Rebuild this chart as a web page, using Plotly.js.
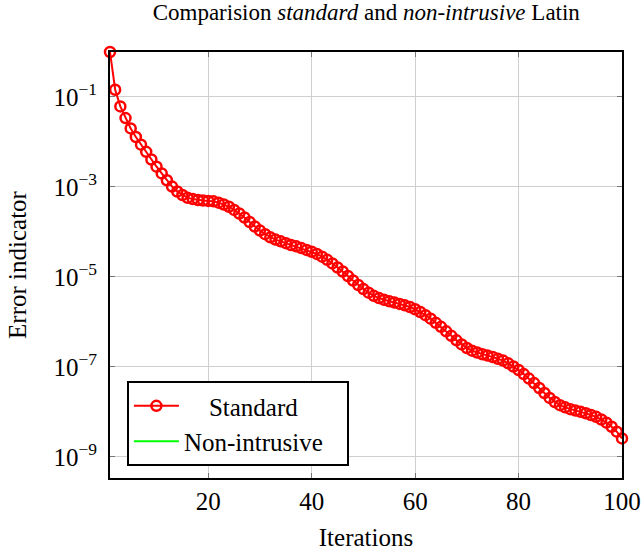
<!DOCTYPE html>
<html>
<head>
<meta charset="utf-8">
<script src="https://cdn.plot.ly/plotly-3.0.1.min.js"></script>
<style>
  html, body { margin: 0; padding: 0; background: #fff; }
  #chart { width: 641px; height: 553px; }
</style>
</head>
<body>
<div id="chart"></div>
<script>
// Iteration numbers of the Latin solver
const iterations = [
  1, 2, 3, 4, 5, 6, 7, 8, 9, 10,
  11, 12, 13, 14, 15, 16, 17, 18, 19, 20,
  21, 22, 23, 24, 25, 26, 27, 28, 29, 30,
  31, 32, 33, 34, 35, 36, 37, 38, 39, 40,
  41, 42, 43, 44, 45, 46, 47, 48, 49, 50,
  51, 52, 53, 54, 55, 56, 57, 58, 59, 60,
  61, 62, 63, 64, 65, 66, 67, 68, 69, 70,
  71, 72, 73, 74, 75, 76, 77, 78, 79, 80,
  81, 82, 83, 84, 85, 86, 87, 88, 89, 90,
  91, 92, 93, 94, 95, 96, 97, 98, 99, 100
];

// Error indicator of the standard Latin method
const standardError = [
  1.00e0, 1.45e-1, 6.17e-2, 3.39e-2, 2.00e-2, 1.29e-2, 8.71e-3, 6.03e-3, 4.07e-3, 2.82e-3,
  2.00e-3, 1.41e-3, 1.02e-3, 7.94e-4, 6.61e-4, 5.75e-4, 5.37e-4, 5.13e-4, 5.01e-4, 4.90e-4,
  4.79e-4, 4.47e-4, 4.07e-4, 3.63e-4, 3.09e-4, 2.57e-4, 2.09e-4, 1.66e-4, 1.32e-4, 1.07e-4,
  8.91e-5, 7.59e-5, 6.76e-5, 6.17e-5, 5.62e-5, 5.13e-5, 4.79e-5, 4.37e-5, 3.98e-5, 3.63e-5,
  3.24e-5, 2.82e-5, 2.40e-5, 2.00e-5, 1.62e-5, 1.32e-5, 1.05e-5, 8.32e-6, 6.61e-6, 5.37e-6,
  4.47e-6, 3.80e-6, 3.39e-6, 3.09e-6, 2.88e-6, 2.69e-6, 2.51e-6, 2.34e-6, 2.14e-6, 1.91e-6,
  1.66e-6, 1.41e-6, 1.18e-6, 9.55e-7, 7.76e-7, 6.17e-7, 4.90e-7, 3.89e-7, 3.16e-7, 2.63e-7,
  2.29e-7, 2.09e-7, 1.91e-7, 1.78e-7, 1.66e-7, 1.51e-7, 1.38e-7, 1.20e-7, 1.02e-7, 8.51e-8,
  6.92e-8, 5.50e-8, 4.37e-8, 3.39e-8, 2.63e-8, 2.04e-8, 1.66e-8, 1.41e-8, 1.26e-8, 1.15e-8,
  1.07e-8, 1.00e-8, 9.33e-9, 8.51e-9, 7.76e-9, 6.76e-9, 5.75e-9, 4.68e-9, 3.63e-9, 2.57e-9
];

// Non-intrusive run: no recorded value, only its legend entry is drawn
const nonIntrusiveIterations = [1];
const nonIntrusiveError = [null];

// Axis ticks
const xTicks = [20, 40, 60, 80, 100];
const yTickVals = [1e-1, 1e-3, 1e-5, 1e-7, 1e-9];
const yTickText = ['10<sup>−1</sup>', '10<sup>−3</sup>', '10<sup>−5</sup>', '10<sup>−7</sup>', '10<sup>−9</sup>'];

const serif = 'Liberation Serif, Times New Roman, serif';

const traces = [
  {
    x: iterations,
    y: standardError,
    name: '&nbsp;&nbsp;&nbsp;&nbsp;Standard',
    type: 'scatter',
    mode: 'lines+markers',
    cliponaxis: false,
    line: { color: '#ff0000', width: 2 },
    marker: { symbol: 'circle-open', size: 10, color: '#ff0000', line: { width: 2.5, color: '#ff0000' } }
  },
  {
    x: nonIntrusiveIterations,
    y: nonIntrusiveError,
    name: 'Non-intrusive&nbsp;&nbsp;&nbsp;',
    type: 'scatter',
    mode: 'lines',
    line: { color: '#00ff00', width: 2 }
  }
];

const layout = {
  width: 641,
  height: 553,
  margin: { l: 110, r: 19, t: 52, b: 75 },
  paper_bgcolor: '#ffffff',
  plot_bgcolor: '#ffffff',
  font: { family: serif, size: 25, color: '#000' },
  title: {
    text: 'Comparision <i>standard</i> and <i>non-intrusive</i> Latin',
    font: { family: serif, size: 23, color: '#000' },
    x: 0.5714, xanchor: 'center',
    y: 0.978, yanchor: 'middle'
  },
  xaxis: {
    range: [1, 100],
    tickvals: xTicks,
    ticktext: xTicks.map(String),
    showgrid: true,
    gridcolor: '#cfcfcf',
    gridwidth: 1,
    zeroline: false,
    showline: true,
    linecolor: '#000',
    linewidth: 2,
    mirror: 'allticks',
    ticks: 'inside',
    ticklen: 5,
    tickcolor: '#777',
    tickfont: { family: serif, size: 25, color: '#000' },
    title: { text: 'Iterations', font: { family: serif, size: 25, color: '#000' }, standoff: 14 }
  },
  yaxis: {
    type: 'log',
    range: [-9.47, 0],
    tickvals: yTickVals,
    ticktext: yTickText,
    showgrid: true,
    gridcolor: '#cfcfcf',
    gridwidth: 1,
    zeroline: false,
    showline: true,
    linecolor: '#000',
    linewidth: 2,
    mirror: 'allticks',
    ticks: 'inside',
    ticklen: 5,
    tickcolor: '#777',
    ticklabelstandoff: 6,
    tickfont: { family: serif, size: 25, color: '#000' },
    title: { text: 'Error indicator', font: { family: serif, size: 25, color: '#000' }, standoff: 20 }
  },
  showlegend: true,
  legend: {
    x: 0.033, xanchor: 'left',
    y: 0.028, yanchor: 'bottom',
    bgcolor: '#ffffff',
    bordercolor: '#000',
    borderwidth: 2,
    font: { family: serif, size: 25, color: '#000' },
    traceorder: 'normal',
    itemwidth: 45
  }
};

Plotly.newPlot('chart', traces, layout, { displayModeBar: false, staticPlot: true });
</script>
</body>
</html>
